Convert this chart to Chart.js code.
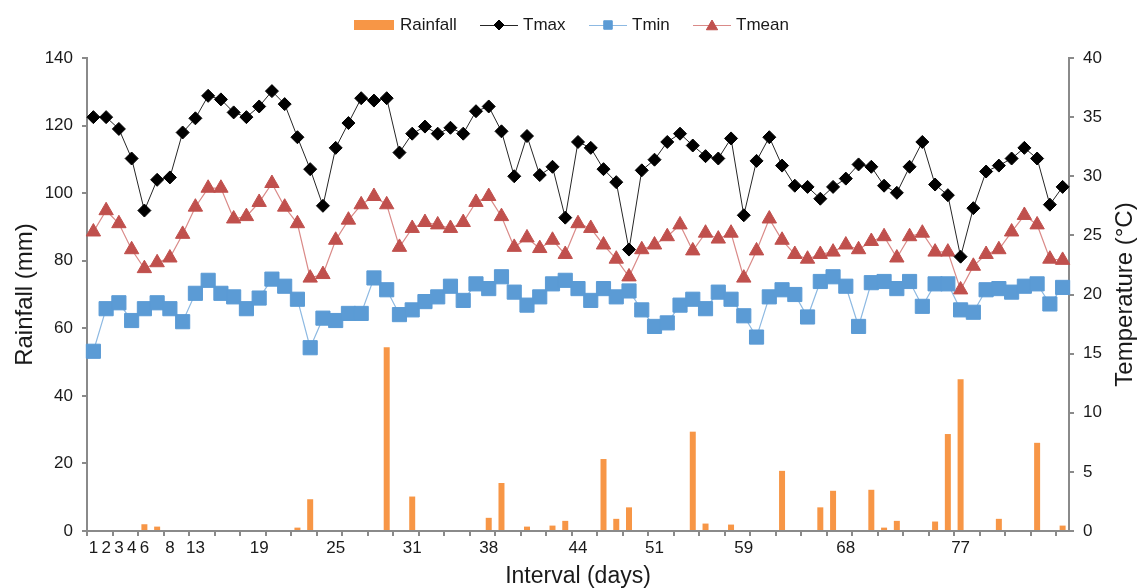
<!DOCTYPE html>
<html>
<head>
<meta charset="utf-8">
<script src="https://cdn.jsdelivr.net/npm/chart.js@4.4.1/dist/chart.umd.min.js"></script>
<style>
  html, body { margin: 0; padding: 0; background: #fff; }
  #chart { display: block; }
</style>
</head>
<body>
<canvas id="chart" width="1138" height="588"></canvas>
<script>
// x categories: only some days carry a label
const dayLabels = [
  '1', '2', '3', '4', '6', '', '8', '', '13', '', '', '', '', '19', '', '', '', '', '', '25',
  '', '', '', '', '', '31', '', '', '', '', '', '38', '', '', '', '', '', '', '44', '',
  '', '', '', '', '51', '', '', '', '', '', '', '59', '', '', '', '', '', '', '', '68',
  '', '', '', '', '', '', '', '', '77', '', '', '', '', '', '', '', ''
];

// rainfall (mm), left axis
const rainfall = [
  0, 0, 0, 0, 2.0, 1.3, 0, 0, 0, 0, 0, 0, 0, 0, 0, 0, 1.0, 9.4, 0, 0,
  0, 0, 0, 54.4, 0, 10.2, 0, 0, 0, 0, 0, 3.9, 14.2, 0, 1.3, 0, 1.6, 3.0, 0, 0,
  21.3, 3.6, 7.0, 0, 0, 0, 0, 29.4, 2.2, 0, 1.9, 0, 0, 0, 17.8, 0, 0, 7.0, 11.9, 0,
  0, 12.2, 1.0, 3.0, 0, 0, 2.8, 28.7, 44.9, 0, 0, 3.6, 0, 0, 26.1, 0, 1.6
];

// temperatures (°C), right axis
const tmax = [
  35.0, 35.0, 34.0, 31.5, 27.1, 29.7, 29.9, 33.7, 34.9, 36.8,
  36.5, 35.4, 35.0, 35.9, 37.2, 36.1, 33.3, 30.6, 27.5, 32.4,
  34.5, 36.6, 36.4, 36.6, 32.0, 33.6, 34.2, 33.6, 34.1, 33.6,
  35.5, 35.9, 33.8, 30.0, 33.4, 30.1, 30.8, 26.5, 32.9, 32.4,
  30.6, 29.5, 23.8, 30.5, 31.4, 32.9, 33.6, 32.6, 31.7, 31.5,
  33.2, 26.7, 31.3, 33.3, 30.9, 29.2, 29.1, 28.1, 29.1, 29.8,
  31.0, 30.8, 29.2, 28.6, 30.8, 32.9, 29.3, 28.4, 23.2, 27.3,
  30.4, 30.9, 31.5, 32.4, 31.5, 27.6, 29.1
];
const tmin = [
  15.2, 18.8, 19.3, 17.8, 18.8, 19.3, 18.8, 17.7, 20.1, 21.2,
  20.1, 19.8, 18.8, 19.7, 21.3, 20.7, 19.6, 15.5, 18.0, 17.8,
  18.4, 18.4, 21.4, 20.4, 18.3, 18.7, 19.4, 19.8, 20.7, 19.5,
  20.9, 20.5, 21.5, 20.2, 19.1, 19.8, 20.9, 21.2, 20.5, 19.5,
  20.5, 19.8, 20.3, 18.7, 17.3, 17.6, 19.1, 19.6, 18.8, 20.2,
  19.6, 18.2, 16.4, 19.8, 20.4, 20.0, 18.1, 21.1, 21.5, 20.7,
  17.3, 21.0, 21.1, 20.5, 21.1, 19.0, 20.9, 20.9, 18.7, 18.5,
  20.4, 20.5, 20.2, 20.7, 20.9, 19.2, 20.6
];
const tmean = [
  25.3, 27.1, 26.0, 23.8, 22.2, 22.7, 23.1, 25.1, 27.4, 29.0,
  29.0, 26.4, 26.6, 27.8, 29.4, 27.4, 26.0, 21.4, 21.7, 24.6,
  26.3, 27.6, 28.3, 27.6, 24.0, 25.6, 26.1, 25.9, 25.6, 26.1,
  27.8, 28.3, 26.6, 24.0, 24.8, 23.9, 24.6, 23.4, 26.0, 25.6,
  24.2, 23.0, 21.5, 23.8, 24.2, 24.9, 25.9, 23.7, 25.2, 24.7,
  25.2, 21.4, 23.7, 26.4, 24.6, 23.4, 23.0, 23.4, 23.6, 24.2,
  23.8, 24.5, 24.9, 23.1, 24.9, 25.2, 23.6, 23.6, 20.4, 22.4,
  23.4, 23.8, 25.3, 26.7, 25.9, 23.0, 22.9
];

const FONT = '"Liberation Sans", Arial, sans-serif';
const AXIS_GRAY = '#8a8a8a';
const TEXT = '#1a1a1a';

// legend + right axis title drawn by hand (Excel style)
const extrasPlugin = {
  id: 'extras',
  afterDraw(chart) {
    const ctx = chart.ctx;
    const cy = 25;
    ctx.save();
    ctx.font = '17px ' + FONT;
    ctx.fillStyle = TEXT;
    ctx.textBaseline = 'middle';
    ctx.textAlign = 'left';

    // Rainfall box
    ctx.fillStyle = '#F79646';
    ctx.fillRect(354, 20, 40, 10);
    ctx.fillStyle = TEXT;
    ctx.fillText('Rainfall', 400, cy);

    const items = [
      { x: 480, text: 'Tmax', line: '#262626', fill: '#000000', style: 'rectRot', r: 5 },
      { x: 589, text: 'Tmin', line: '#8DB9E2', fill: '#5B9BD5', style: 'rect', r: 6 },
      { x: 693, text: 'Tmean', line: '#DA8A88', fill: '#C0504D', style: 'triangle', r: 6.5 }
    ];
    items.forEach(it => {
      ctx.strokeStyle = it.line;
      ctx.lineWidth = 1;
      ctx.beginPath();
      ctx.moveTo(it.x, cy + 0.5);
      ctx.lineTo(it.x + 38, cy + 0.5);
      ctx.stroke();
      ctx.fillStyle = it.fill;
      ctx.strokeStyle = it.fill;
      Chart.helpers.drawPoint(ctx, { pointStyle: it.style, radius: it.r, rotation: 0, borderWidth: 1 },
        it.x + 19, it.style === 'triangle' ? cy + 1.5 : cy);
      ctx.fillStyle = TEXT;
      ctx.fillText(it.text, it.x + 43, cy);
    });

    // right axis title, reading bottom to top
    const area = chart.chartArea;
    ctx.translate(1125, (area.top + area.bottom) / 2);
    ctx.rotate(-Math.PI / 2);
    ctx.textAlign = 'center';
    ctx.font = '24px ' + FONT;
    ctx.fillText('Temperature (°C)', 0, 0);
    ctx.restore();
  }
};

new Chart(document.getElementById('chart'), {
  type: 'bar',
  data: {
    labels: dayLabels,
    datasets: [
      {
        type: 'line',
        label: 'Tmax',
        data: tmax,
        yAxisID: 'y1',
        borderColor: '#262626',
        borderWidth: 1,
        backgroundColor: '#000000',
        pointStyle: 'rectRot',
        pointRadius: 6.5,
        pointBorderWidth: 1,
        pointBorderColor: '#000000',
        pointBackgroundColor: '#000000',
        tension: 0,
        order: 1
      },
      {
        type: 'line',
        label: 'Tmin',
        data: tmin,
        yAxisID: 'y1',
        borderColor: '#8DB9E2',
        borderWidth: 1.2,
        pointStyle: 'rect',
        pointRadius: 10,
        pointBorderWidth: 1,
        pointBorderColor: '#5B9BD5',
        pointBackgroundColor: '#5B9BD5',
        tension: 0,
        order: 2
      },
      {
        type: 'line',
        label: 'Tmean',
        data: tmean,
        yAxisID: 'y1',
        borderColor: '#DA8A88',
        borderWidth: 1.2,
        pointStyle: 'triangle',
        pointRadius: 8.3,
        pointBorderWidth: 1,
        pointBorderColor: '#C0504D',
        pointBackgroundColor: '#C0504D',
        tension: 0,
        order: 3
      },
      {
        label: 'Rainfall',
        data: rainfall,
        yAxisID: 'y',
        backgroundColor: '#F79646',
        categoryPercentage: 1.0,
        barPercentage: 0.47,
        order: 10
      }
    ]
  },
  options: {
    responsive: false,
    animation: false,
    layout: { padding: { top: 58, left: 0, right: 0, bottom: 0 } },
    plugins: {
      legend: { display: false },
      tooltip: { enabled: false }
    },
    scales: {
      x: {
        offset: true,
        afterFit: s => { s.height = 57; },
        border: { display: true, color: AXIS_GRAY, width: 2 },
        grid: {
          offset: true,
          drawOnChartArea: false,
          drawTicks: true,
          tickLength: 5,
          lineWidth: 2,
          color: c => (c.index !== undefined && c.index % 2 === 0) ? AXIS_GRAY : 'rgba(0,0,0,0)'
        },
        ticks: {
          autoSkip: false,
          maxRotation: 0,
          minRotation: 0,
          padding: 2,
          color: TEXT,
          font: { family: FONT, size: 17 }
        },
        title: {
          display: true,
          text: 'Interval (days)',
          color: TEXT,
          font: { family: FONT, size: 23 },
          padding: { top: 0, bottom: -2 }
        }
      },
      y: {
        position: 'left',
        min: 0,
        max: 140,
        afterFit: s => { s.width = 87; },
        border: { display: true, color: AXIS_GRAY, width: 2 },
        grid: { drawOnChartArea: false, drawTicks: true, tickLength: 5, lineWidth: 2, color: AXIS_GRAY },
        ticks: {
          stepSize: 20,
          padding: 9,
          color: TEXT,
          font: { family: FONT, size: 17 }
        },
        title: {
          display: true,
          text: 'Rainfall (mm)',
          color: TEXT,
          font: { family: FONT, size: 24 },
          padding: { top: 11, bottom: 0 }
        }
      },
      y1: {
        position: 'right',
        min: 0,
        max: 40,
        afterFit: s => { s.width = 69; },
        border: { display: true, color: AXIS_GRAY, width: 2 },
        grid: { drawOnChartArea: false, drawTicks: true, tickLength: 5, lineWidth: 2, color: AXIS_GRAY },
        ticks: {
          stepSize: 5,
          padding: 9,
          color: TEXT,
          font: { family: FONT, size: 17 }
        }
      }
    }
  },
  plugins: [extrasPlugin]
});
</script>
</body>
</html>
